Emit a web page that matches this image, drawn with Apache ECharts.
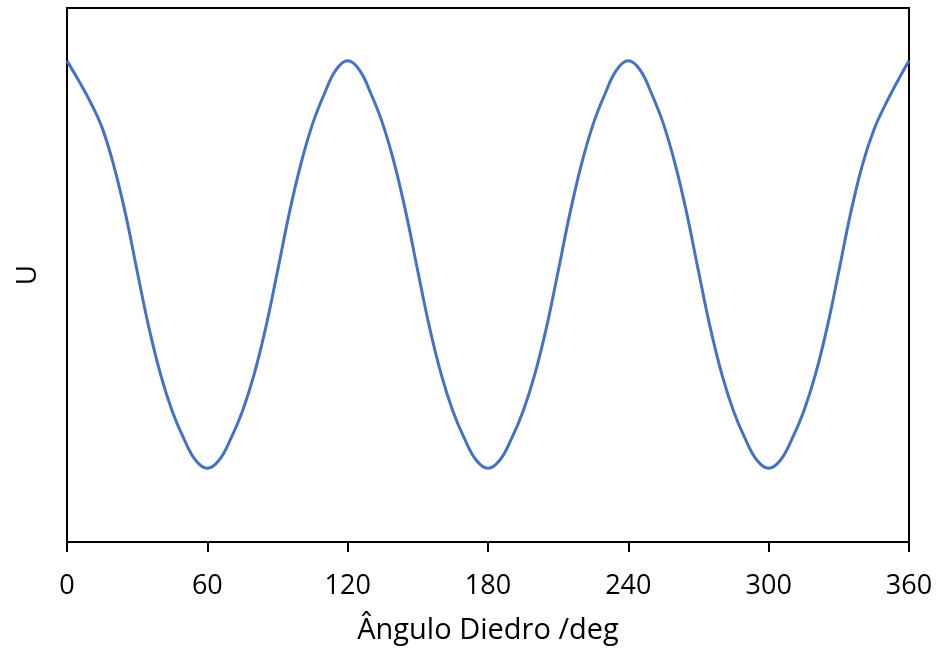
<!DOCTYPE html>
<html>
<head>
<meta charset="utf-8">
<script src="https://cdn.jsdelivr.net/npm/echarts@6/dist/echarts.min.js"></script>
<style>html,body{margin:0;padding:0;background:#fff;}#c{width:940px;height:650px;}</style>
</head>
<body>
<div id="c"></div>
<script>
// Dihedral angle (deg), every 5 degrees
const angles = [0,5,10,15,20,25,30,35,40,45,50,55,60,65,70,75,80,85,90,95,100,105,110,115,120,
  125,130,135,140,145,150,155,160,165,170,175,180,185,190,195,200,205,210,215,220,225,230,235,240,
  245,250,255,260,265,270,275,280,285,290,295,300,305,310,315,320,325,330,335,340,345,350,355,360];
// Energy U (arbitrary units)
const energy = [
  9.01,8.64,8.24,7.76,7.05,6.15,5.07,4.02,3.14,2.45,1.93,1.53,1.38,
  1.53,1.93,2.45,3.14,4.02,5.07,6.15,7.08,7.83,8.39,8.84,9.01,
  8.84,8.39,7.83,7.08,6.15,5.07,4.02,3.14,2.45,1.93,1.53,1.38,
  1.53,1.93,2.45,3.14,4.02,5.07,6.15,7.08,7.83,8.39,8.84,9.01,
  8.84,8.39,7.83,7.08,6.15,5.07,4.02,3.14,2.45,1.93,1.53,1.38,
  1.53,1.93,2.45,3.14,4.02,5.07,6.15,7.05,7.72,8.20,8.62,9.01];
const xTicks = [0,60,120,180,240,300,360];
const xTitle = 'Ângulo Diedro /deg';
const yTitle = 'U';

const chart = echarts.init(document.getElementById('c'), null, {renderer:'canvas'});
const font = '"Open Sans", "Liberation Sans", sans-serif';
chart.setOption({
  animation: false,
  grid: {left: 67, right: 31, top: 8, bottom: 107, show: true, borderColor: '#000', borderWidth: 2, backgroundColor: '#fff'},
  xAxis: {
    type: 'value', min: xTicks[0], max: xTicks[xTicks.length-1], interval: 60,
    name: xTitle, nameLocation: 'middle', nameGap: 74,
    nameTextStyle: {color: '#000', fontSize: 29, fontFamily: font},
    axisLine: {show: true, onZero: false, lineStyle: {color: '#000', width: 2}},
    axisTick: {show: true, inside: false, length: 10, lineStyle: {color: '#000', width: 2}},
    axisLabel: {color: '#000', fontSize: 27, fontFamily: font, margin: 31},
    splitLine: {show: false}
  },
  yAxis: {
    type: 'value', min: 0, max: 10,
    name: yTitle, nameLocation: 'middle', nameGap: 25,
    nameTextStyle: {color: '#000', fontSize: 28, fontFamily: font},
    axisLine: {show: true, lineStyle: {color: '#000', width: 2}},
    axisTick: {show: false},
    axisLabel: {show: false},
    splitLine: {show: false}
  },
  series: [{
    type: 'line',
    data: angles.map((a, i) => [a, energy[i]]),
    smooth: 0.4,
    showSymbol: false,
    lineStyle: {color: '#4472C4', width: 3}
  }]
});
</script>
</body>
</html>
